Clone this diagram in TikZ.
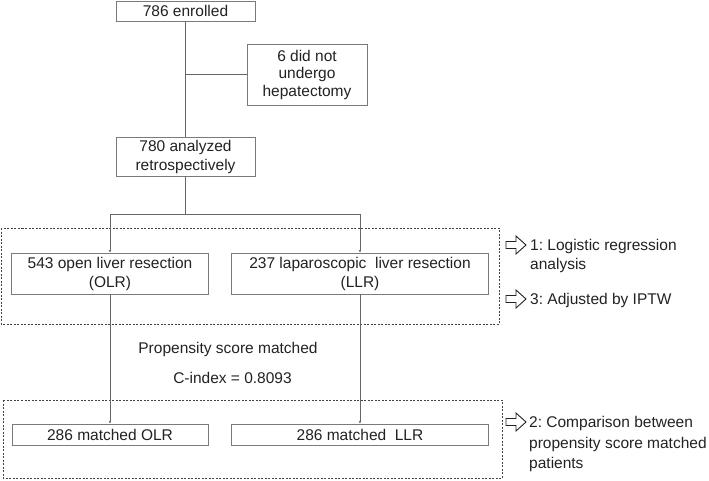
\documentclass[tikz,border=0pt]{standalone}
\usepackage{fontspec}
\setmainfont{Liberation Sans}
\frenchspacing
\usetikzlibrary{arrows.meta}
\definecolor{txt}{HTML}{222222}
\definecolor{boxgray}{HTML}{7A7A7A}
\definecolor{linegray}{HTML}{666666}
\definecolor{dashgray}{HTML}{444444}
\newcommand\openarrow[1]{%
  \draw[blockarr, shift={#1}] (0,-3.5) -- (10,-3.5) -- (10,-9) -- (20,0) -- (10,9) -- (10,3.5) -- (0,3.5) -- cycle;}
\begin{document}
\begin{tikzpicture}[x=1pt,y=-1pt,
  box/.style={draw=boxgray, line width=0.9pt, fill=white, inner sep=0pt, align=center,
    font=\fontsize{15.5}{19}\selectfont, text=txt},
  conn/.style={draw=linegray, line width=0.9pt},
  tip/.style={-{Latex[length=2.5pt,width=2.5pt]}},
  dbox/.style={draw=dashgray, line width=0.8pt, dash pattern=on 2pt off 1.5pt},
  lbl/.style={inner sep=0pt, align=left, font=\fontsize{15.5}{19}\selectfont, text=txt},
  clbl/.style={inner sep=0pt, align=center, font=\fontsize{15.5}{19}\selectfont, text=txt},
  blockarr/.style={draw=txt, line width=0.9pt, fill=white, line join=miter}
]
\useasboundingbox (0,0) rectangle (709,480);

% dashed group frames
\draw[dbox] (1,228) rectangle (499,324);
\draw[dbox] (3,400) rectangle (502,478);

% boxes
\node[box, minimum width=139pt, minimum height=20pt] (enrolled) at (185.5,11) {786 enrolled};
\node[box, minimum width=120pt, minimum height=61pt, font=\fontsize{15.5}{17.5}\selectfont] (excl) at (307,74.5) {6 did not\\undergo\\hepatectomy};
\node[box, minimum width=139pt, minimum height=39pt] (analyzed) at (185.5,156.5) {780 analyzed\\retrospectively};
\node[box, minimum width=197pt, minimum height=41pt] (olr) at (110,273.5) {543 open liver resection\\(OLR)};
\node[box, minimum width=257pt, minimum height=41pt] (llr) at (360,273.5) {237 laparoscopic\ \ liver resection\\(LLR)};
\node[box, minimum width=196pt, minimum height=21pt] (molr) at (110,434.5) {286 matched OLR};
\node[box, minimum width=257pt, minimum height=21pt] (mllr) at (360,434.5) {286 matched\ \ LLR};

% connectors
\coordinate (split) at (185.5,214);
\draw[conn] (enrolled.south) -- (analyzed.north);
\draw[conn] (enrolled.south |- excl.west) -- (excl.west);
\draw[conn] (analyzed.south) -- (split);
\draw[conn, tip] (split) -| (olr.north);
\draw[conn, tip] (split) -| (llr.north);
\draw[conn, tip] (olr.south) -- (molr.north);
\draw[conn, tip] (llr.south) -- (mllr.north);

% middle labels
\node[clbl, anchor=base] (psm) at (228,353.5) {Propensity score matched};
\node[clbl, anchor=base] (cidx) at (232.5,383.5) {C-index = 0.8093};

% right-hand notes (base anchor = baseline of the last line)
\openarrow{(506,245)}
\node[lbl, anchor=base west] (n1) at (530,269.5) {1: Logistic regression\\analysis};
\openarrow{(506,299)}
\node[lbl, anchor=base west] (n3) at (530,304.5) {3: Adjusted by IPTW};
\openarrow{(506,422)}
\node[lbl, anchor=base west, font=\fontsize{15.5}{20.5}\selectfont] (n2) at (529,468.5) {2: Comparison between\\propensity score matched\\patients};
\end{tikzpicture}
\end{document}
